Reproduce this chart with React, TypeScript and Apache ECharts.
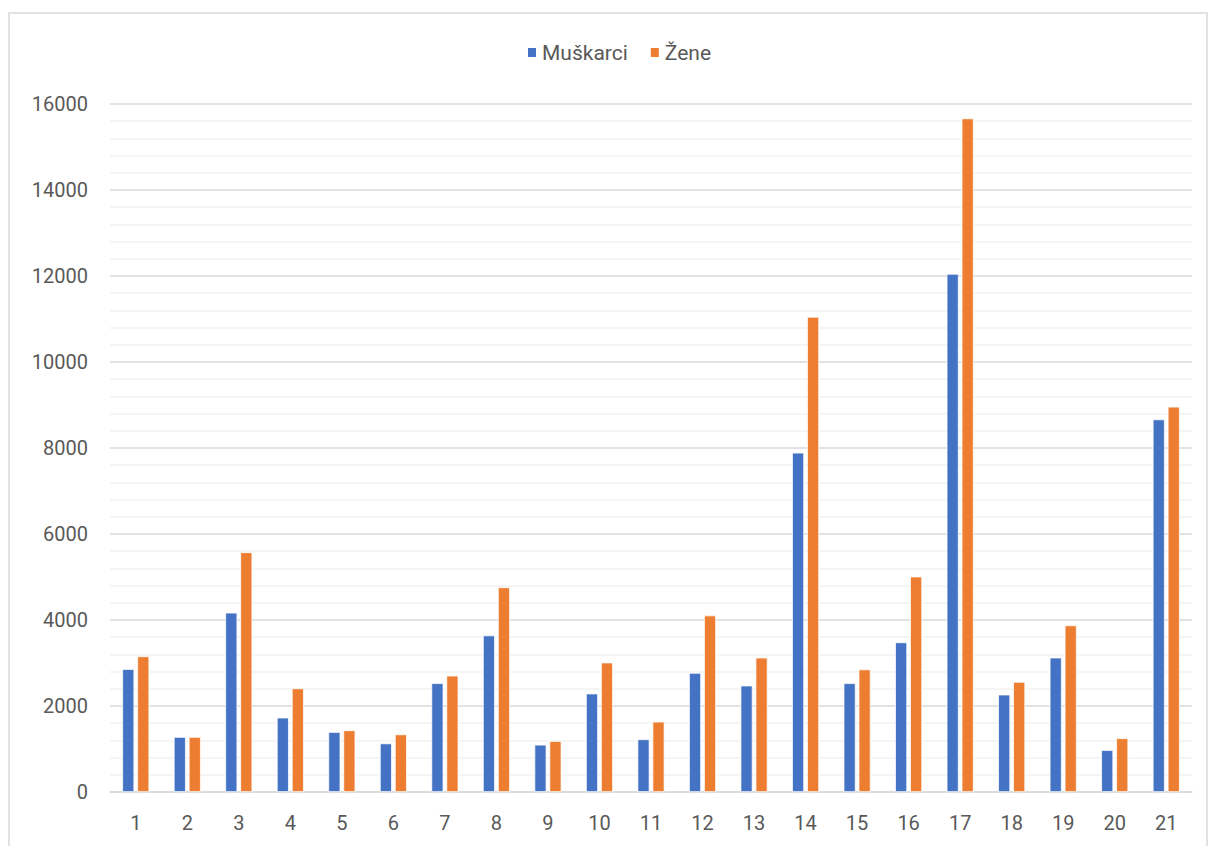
import React, { useEffect, useRef } from "react";
import * as echarts from "echarts";

const categories = ["1","2","3","4","5","6","7","8","9","10","11","12","13","14","15","16","17","18","19","20","21"];
const muskarci = [2860, 1280, 4170, 1730, 1395, 1130, 2530, 3640, 1100, 2290, 1225, 2770, 2475, 7890, 2530, 3480, 12050, 2265, 3125, 975, 8665];
const zene = [3155, 1280, 5575, 2410, 1435, 1340, 2705, 4760, 1185, 3010, 1635, 4105, 3125, 11050, 2850, 5010, 15665, 2560, 3875, 1250, 8960];
const seriesNames = ["Muškarci", "Žene"];

const FONT = "Roboto, 'Noto Sans', sans-serif";

export default function App() {
  const ref = useRef<HTMLDivElement>(null);
  useEffect(() => {
    if (!ref.current) return;
    const chart = echarts.init(ref.current, null, { renderer: "svg" });
    chart.setOption({
      animation: false,
      backgroundColor: "#ffffff",
      graphic: [
        {
          type: "rect",
          shape: { x: 9, y: 13, width: 1198, height: 850 },
          style: { fill: "none", stroke: "#d9d9d9", lineWidth: 1.5 },
          silent: true,
        },
      ],
      legend: {
        top: 37,
        left: 521,
        itemWidth: 10,
        itemHeight: 11,
        itemGap: 21,
        icon: "rect",
        textStyle: { color: "#595959", fontSize: 21, fontFamily: FONT },
        data: seriesNames,
      },
      grid: { left: 110, right: 18, top: 104, bottom: 54, containLabel: false },
      xAxis: {
        type: "category",
        data: categories,
        axisTick: { show: false },
        axisLine: { lineStyle: { color: "#d9d9d9", width: 1.5 } },
        axisLabel: { color: "#595959", fontSize: 20, fontFamily: FONT, margin: 21 },
      },
      yAxis: {
        type: "value",
        min: 0,
        max: 16000,
        interval: 2000,
        axisLine: { show: false },
        axisTick: { show: false },
        axisLabel: {
          color: "#595959",
          fontSize: 20,
          fontFamily: FONT,
          margin: 22,
          formatter: (v: number) => String(v),
        },
        splitLine: { lineStyle: { color: "#d9d9d9", width: 1.5 } },
        minorTick: { show: false, splitNumber: 5 },
        minorSplitLine: { show: true, lineStyle: { color: "#f2f2f2", width: 1.5 } },
      },
      series: [
        {
          name: seriesNames[0],
          type: "bar",
          data: muskarci,
          barWidth: 12,
          barGap: "25%",
          itemStyle: { color: "#4472C4", borderColor: "#ffffff", borderWidth: 0.75 },
        },
        {
          name: seriesNames[1],
          type: "bar",
          data: zene,
          barWidth: 12,
          barGap: "25%",
          itemStyle: { color: "#ED7D31", borderColor: "#ffffff", borderWidth: 0.75 },
        },
      ],
    });
    return () => chart.dispose();
  }, []);
  return (
    <div
      ref={ref}
      style={{ position: "fixed", left: 0, top: 0, width: 1210, height: 846 }}
    />
  );
}
